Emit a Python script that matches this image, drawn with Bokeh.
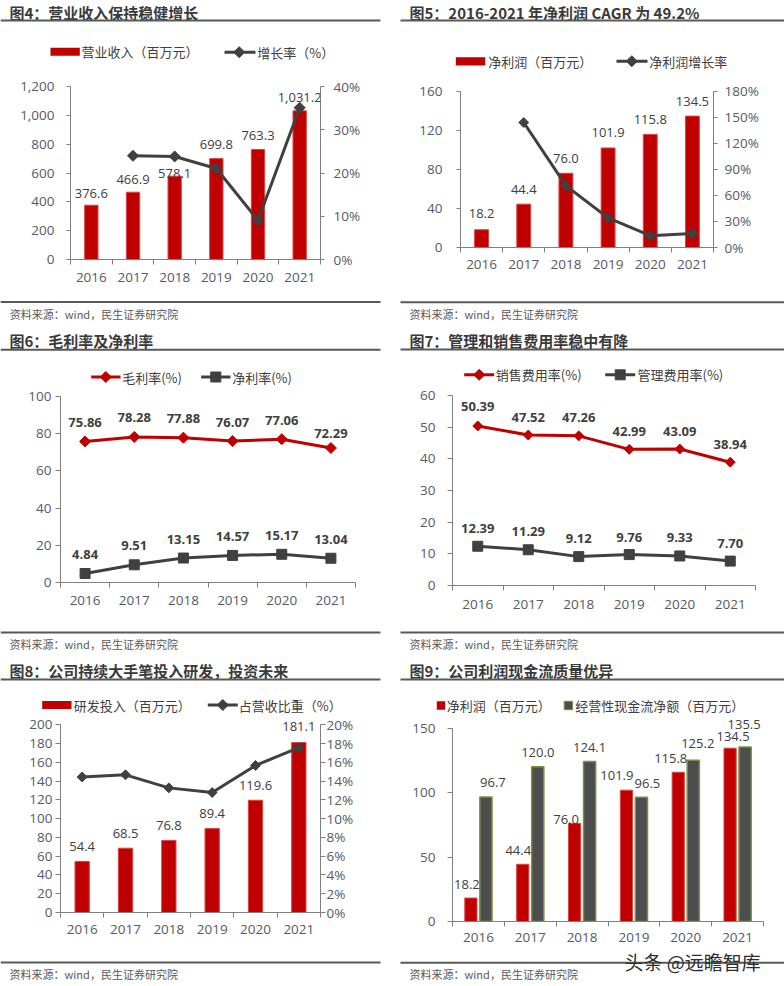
import numpy as np
from math import pi
from bokeh.plotting import figure
from bokeh.layouts import column, row
from bokeh.models import (Range1d, LinearAxis, FixedTicker, PrintfTickFormatter, NumeralTickFormatter,
                          LabelSet, ColumnDataSource)
from bokeh.core.properties import value
from bokeh.embed import file_html
from bokeh.resources import INLINE

# ---------------- data ----------------
years = ["2016", "2017", "2018", "2019", "2020", "2021"]
revenue = [376.6, 466.9, 578.1, 699.8, 763.3, 1031.2]            # 百万元
revenue_growth = [23.98, 23.82, 21.05, 9.07, 35.10]              # 2017-2021, %
net_profit = [18.2, 44.4, 76.0, 101.9, 115.8, 134.5]              # 百万元
net_profit_growth = [143.96, 71.17, 34.08, 13.64, 16.15]         # 2017-2021, %
gross_margin = [75.86, 78.28, 77.88, 76.07, 77.06, 72.29]
net_margin = [4.84, 9.51, 13.15, 14.57, 15.17, 13.04]
selling_ratio = [50.39, 47.52, 47.26, 42.99, 43.09, 38.94]
admin_ratio = [12.39, 11.29, 9.12, 9.76, 9.33, 7.70]
rd_spend = [54.4, 68.5, 76.8, 89.4, 119.6, 181.1]
rd_share = [14.44, 14.67, 13.28, 12.78, 15.67, 17.56]
op_cash_flow = [96.7, 120.0, 124.1, 96.5, 125.2, 135.5]

rev_ticks = [0, 200, 400, 600, 800, 1000, 1200]
rev_growth_ticks = [0, 10, 20, 30, 40]
np_ticks = [0, 40, 80, 120, 160]
np_growth_ticks = [0, 30, 60, 90, 120, 150, 180]
margin_ticks = [0, 20, 40, 60, 80, 100]
expense_ticks = [0, 10, 20, 30, 40, 50, 60]
rd_ticks = [0, 20, 40, 60, 80, 100, 120, 140, 160, 180, 200]
rd_share_ticks = [0, 2, 4, 6, 8, 10, 12, 14, 16, 18, 20]
cf_ticks = [0, 50, 100, 150]

titles = ["图4：营业收入保持稳健增长", "图5：2016-2021 年净利润 CAGR 为 49.2%",
          "图6：毛利率及净利率", "图7：管理和销售费用率稳中有降",
          "图8：公司持续大手笔投入研发，投资未来", "图9：公司利润现金流质量优异"]
legend_labels = {
    4: ["营业收入（百万元）", "增长率（%）"],
    5: ["净利润（百万元）", "净利润增长率"],
    6: ["毛利率(%)", "净利率(%)"],
    7: ["销售费用率(%)", "管理费用率(%)"],
    8: ["研发投入（百万元）", "占营收比重（%）"],
    9: ["净利润（百万元）", "经营性现金流净额（百万元）"],
}
source_note = "资料来源：wind，民生证券研究院"
watermark = "头条 @远瞻智库"

# ---------------- styles ----------------
RED = "#C00000"
RED_EDGE = "#D84545"
GRAY = "#404040"
BAR_GRAY = "#4D4D4F"
GREEN = "#77933C"
AXIS = "#808080"
RULE = "#595959"
TICK_TEXT = "#555A66"
LABEL_TEXT = "#404040"
TITLE_TEXT = "#3A3A3A"
CJK = "Noto Sans CJK SC"
NUM = "Open Sans"
PW = 392                      # panel width
TICK_FONT = "13.5px"

# label lifts (px above the point) and horizontal nudges (px)
rev_lift = [12, 13, 2.5, 14, 14, 13]
np_lift = [16, 15, 15, 15, 15, 15]
gm_lift = [19, 19, 19, 19, 19, 15]
nm_lift = [19, 19, 19, 19, 19, 19]
sell_lift = [19, 18, 18.5, 18, 17.5, 17.5]
admin_lift = [18, 18, 18, 17.5, 18, 17.5]
rd_lift = [15, 15, 15, 15, 15, 16]
cf_np_lift = [14, 14, 4, 15, 13.5, 12]
cf_np_shift = [-4, -4.5, -8.5, -9.5, -7.5, 3]
cf_ocf_lift = [14, 14.5, 14, 14, 17, 22]
cf_ocf_shift = [7, 0, 0, 6, 4.5, -1]

xi = np.arange(len(years))


# ---------- decoration strips (title / legend / source): 1 data unit = 1 px, y downwards ----------
def strip(height):
    p = figure(width=PW, height=height, x_range=Range1d(0, PW), y_range=Range1d(height, 0),
               output_backend="svg", toolbar_location=None, title=None,
               x_axis_location=None, y_axis_location=None, min_border=0,
               outline_line_color=None, background_fill_color="white", border_fill_color="white",
               frame_align=False)
    p.grid.visible = False
    return p


def s_text(p, X, Y, s, size, color, bold=False, font=CJK):
    p.text(x=[X], y=[Y], text=[s], text_font=value(font), text_font_size=value(size), text_color=color,
           text_font_style="bold" if bold else "normal", text_baseline="middle", text_align="left")


def s_rect(p, X0, X1, Y0, Y1, color, line_color=None, lw=1):
    p.quad(left=[X0], right=[X1], top=[Y0], bottom=[Y1], fill_color=color,
           line_color=line_color, line_width=lw)


def s_rule(p, X0, X1, Y):
    s_rect(p, X0, X1, Y - 1, Y + 1, RULE)


def s_key_bar(p, X0, X1, Y0, Y1, color, tx, text, line_color=None):
    s_rect(p, X0, X1, Y0, Y1, color, line_color=line_color)
    s_text(p, tx, (Y0 + Y1) / 2, text, "13px", LABEL_TEXT)


def s_key_line(p, X0, X1, Y, color, marker, mx, tx, text):
    s_rect(p, X0, X1, Y - 1.5, Y + 1.5, color)
    if marker == "diamond":
        p.scatter([mx], [Y], marker="square", angle=pi / 4, size=7.8, fill_color=color, line_color=color)
    else:
        p.scatter([mx], [Y], marker="square", size=10, fill_color=color, line_color=color)
    s_text(p, tx, Y, text, "13px", LABEL_TEXT)


def footer(height, X, Y, rx0, rx1, ry):
    p = strip(height)
    s_rule(p, rx0, rx1, ry)
    s_text(p, X, Y, source_note, "11px", "#595959")
    return p


# ---------- chart strip ----------
class Chart:
    def __init__(self, height, fl, fr, y_top, y_bottom, ticks, fmt, y_standoff, y_tick_out, x_standoff):
        # frame starts at the top of this strip; y_top / y_bottom: pixel rows of the top tick and the axis
        self.fb = int(round(y_bottom))
        self.y_top = y_top
        tmin, tmax = ticks[0], ticks[-1]
        y_end = tmax + y_top * (tmax - tmin) / (self.fb - y_top)
        p = figure(width=PW, height=height, x_range=Range1d(-0.5, len(years) - 0.5),
                   y_range=Range1d(tmin, y_end), output_backend="svg", toolbar_location=None, title=None,
                   min_border_left=int(round(fl)), min_border_right=PW - int(round(fr)),
                   min_border_top=0, min_border_bottom=height - self.fb,
                   outline_line_color=None, background_fill_color="white", border_fill_color="white",
                   frame_align=False)
        p.xgrid.visible = False
        p.ygrid.visible = False
        xa = p.xaxis[0]
        xa.ticker = FixedTicker(ticks=list(range(len(years))),
                                minor_ticks=[i - 0.5 for i in range(len(years) + 1)])
        xa.major_label_overrides = {i: y for i, y in enumerate(years)}
        xa.axis_line_color = AXIS
        xa.major_tick_line_color = None
        xa.major_tick_out = 0
        xa.major_tick_in = 0
        xa.minor_tick_line_color = AXIS
        xa.minor_tick_out = 5
        xa.minor_tick_in = 0
        xa.major_label_standoff = x_standoff
        xa.major_label_text_font = NUM
        xa.major_label_text_font_size = TICK_FONT
        xa.major_label_text_color = TICK_TEXT
        ya = p.yaxis[0]
        ya.ticker = FixedTicker(ticks=ticks)
        ya.bounds = (tmin, tmax)
        if fmt is not None:
            ya.formatter = fmt
        self._style_y(ya, y_standoff, y_tick_out)
        self.p = p

    @staticmethod
    def _style_y(ax, standoff, tick_out):
        ax.axis_line_color = AXIS
        ax.major_tick_line_color = AXIS
        ax.major_tick_out = tick_out
        ax.major_tick_in = 0
        ax.minor_tick_line_color = None
        ax.major_label_standoff = standoff
        ax.major_label_text_font = NUM
        ax.major_label_text_font_size = TICK_FONT
        ax.major_label_text_color = TICK_TEXT

    def right_axis(self, name, ticks, standoff, tick_out=4):
        pmin, pmax = ticks[0], ticks[-1]
        p_end = pmax + self.y_top * (pmax - pmin) / (self.fb - self.y_top)
        self.p.extra_y_ranges = {name: Range1d(pmin, p_end)}
        ax = LinearAxis(y_range_name=name, ticker=FixedTicker(ticks=ticks),
                        formatter=PrintfTickFormatter(format="%d%%"), bounds=(pmin, pmax))
        self._style_y(ax, standoff, tick_out)
        self.p.add_layout(ax, "right")

    def value_labels(self, x, y, texts, lift, shift=None, bold=False, y_range_name=None):
        src = ColumnDataSource(dict(x=list(x), y=list(y), t=texts, dy=list(lift),
                                    dx=list(shift) if shift is not None else [0] * len(texts)))
        kw = {"y_range_name": y_range_name} if y_range_name else {}
        self.p.add_layout(LabelSet(x="x", y="y", text="t", x_offset="dx", y_offset="dy", source=src,
                                   text_align="center", text_baseline="middle",
                                   text_font=value(NUM), text_font_size="13px",
                                   text_font_style="bold" if bold else "normal",
                                   text_color=LABEL_TEXT, **kw))


def line_series(p, x, y, color, marker, size, y_range_name=None, level="glyph"):
    kw = {"y_range_name": y_range_name} if y_range_name else {}
    p.line(x, y, line_color=color, line_width=3, line_join="round", level=level, **kw)
    if marker == "diamond":
        p.scatter(x, y, marker="square", angle=pi / 4, size=size, fill_color=color, line_color=color,
                  level=level, **kw)
    else:
        p.scatter(x, y, marker="square", size=size, fill_color=color, line_color=color, level=level, **kw)


# ================= 图4 (panel origin 0,0; 392x325) =================
h4 = strip(68)
s_text(h4, 9, 12, titles[0], "15px", TITLE_TEXT, bold=True)
s_rule(h4, 0, 380, 20)
s_key_bar(h4, 50, 79.3, 47.3, 55.3, RED, 81, legend_labels[4][0])
s_key_line(h4, 224, 255, 51.7, GRAY, "diamond", 238.7, 256.7, legend_labels[4][1])
c4 = Chart(229, 70, 320, 86 - 68, 259 - 68, rev_ticks, NumeralTickFormatter(format="0,0"), 12, 4, 8)
c4.right_axis("pct", rev_growth_ticks, 9, 4)
c4.p.vbar(x=xi, top=revenue, width=0.32, fill_color=RED, line_color=RED_EDGE, line_width=1)
c4.value_labels(xi, revenue, [f"{v:,.1f}" for v in revenue], rev_lift)
line_series(c4.p, xi[1:], revenue_growth, GRAY, "diamond", 7.8, "pct", level="overlay")
f4 = footer(28, 9.3, 16, 0, 380, 4.5)
panel4 = column(h4, c4.p, f4)

# ================= 图5 (origin 392,0) =================
h5 = strip(72)
s_text(h5, 17, 12, titles[1], "15px", TITLE_TEXT, bold=True)
s_rule(h5, 8, 392, 20)
s_key_bar(h5, 63.3, 92.7, 56.7, 65, RED, 95.7, legend_labels[5][0])
s_key_line(h5, 224, 255, 60.7, GRAY, "diamond", 239.3, 256.7, legend_labels[5][1])
c5 = Chart(225, 68, 320.7, 90.7 - 72, 246.7 - 72, np_ticks, None, 14, 4, 7)
c5.right_axis("pct", np_growth_ticks, 7, 4)
c5.p.vbar(x=xi, top=net_profit, width=0.33, fill_color=RED, line_color=RED_EDGE, line_width=1)
c5.value_labels(xi, net_profit, [f"{v:.1f}" for v in net_profit], np_lift)
line_series(c5.p, xi[1:], net_profit_growth, GRAY, "diamond", 7, "pct")
f5 = footer(28, 17, 16, 8, 392, 4.7)
panel5 = column(h5, c5.p, f5)

# ================= 图6 (origin 0,325; 392x330) =================
h6 = strip(61)
s_text(h6, 9, 15, titles[2], "15px", TITLE_TEXT, bold=True)
s_rule(h6, 0, 380, 24.3)
s_key_line(h6, 90.7, 120, 51.5, RED, "diamond", 105.3, 121.7, legend_labels[6][0])
s_key_line(h6, 200.7, 230, 51.5, GRAY, "square", 215.3, 231.7, legend_labels[6][1])
c6 = Chart(239, 60, 355, 71 - 61, 257 - 61, margin_ticks, None, 4, 5, 8)
line_series(c6.p, xi, gross_margin, RED, "diamond", 7.8)
line_series(c6.p, xi, net_margin, GRAY, "square", 10)
c6.value_labels(xi, gross_margin, [f"{v:.2f}" for v in gross_margin], gm_lift, bold=True)
c6.value_labels(xi, net_margin, [f"{v:.2f}" for v in net_margin], nm_lift, bold=True)
f6 = footer(30, 9, 18, 0, 380, 7)
panel6 = column(h6, c6.p, f6)

# ================= 图7 (origin 392,325) =================
h7 = strip(60)
s_text(h7, 17, 15, titles[3], "15px", TITLE_TEXT, bold=True)
s_rule(h7, 8, 392, 24)
s_key_line(h7, 71.7, 101.7, 49.3, RED, "diamond", 86.7, 103.3, legend_labels[7][0])
s_key_line(h7, 212.7, 242.7, 49.3, GRAY, "square", 227.7, 245, legend_labels[7][1])
c7 = Chart(240, 60, 362.7, 70 - 60, 260.3 - 60, expense_ticks, None, 12, 5, 9)
line_series(c7.p, xi, selling_ratio, RED, "diamond", 7)
line_series(c7.p, xi, admin_ratio, GRAY, "square", 10)
c7.value_labels(xi, selling_ratio, [f"{v:.2f}" for v in selling_ratio], sell_lift, bold=True)
c7.value_labels(xi, admin_ratio, [f"{v:.2f}" for v in admin_ratio], admin_lift, bold=True)
f7 = footer(30, 17, 18, 8, 392, 7)
panel7 = column(h7, c7.p, f7)

# ================= 图8 (origin 0,655; 392x330) =================
h8 = strip(59)
s_text(h8, 9, 15, titles[4], "15px", TITLE_TEXT, bold=True)
s_rule(h8, 0, 380, 24)
s_key_bar(h8, 41.7, 71, 45.5, 53.5, RED, 73.3, legend_labels[8][0])
s_key_line(h8, 207.3, 237.3, 49.5, GRAY, "diamond", 222.3, 238.3, legend_labels[8][1])
c8 = Chart(241, 60, 320, 69.3 - 59, 256.7 - 59, rd_ticks, None, 3, 5, 7)
c8.right_axis("pct", rd_share_ticks, 1, 5)
c8.p.vbar(x=xi, top=rd_spend, width=0.33, fill_color=RED, line_color=RED_EDGE, line_width=1)
c8.value_labels(xi, rd_spend, [f"{v:.1f}" for v in rd_spend], rd_lift)
line_series(c8.p, xi, rd_share, GRAY, "diamond", 7, "pct")
f8 = footer(30, 9, 18, 0, 380, 7)
panel8 = column(h8, c8.p, f8)

# ================= 图9 (origin 392,655) =================
h9 = strip(60)
s_text(h9, 17, 15, titles[5], "15px", TITLE_TEXT, bold=True)
s_rule(h9, 8, 392, 24)
s_key_bar(h9, 44.3, 52.7, 45.8, 54.2, RED, 54.3, legend_labels[9][0])
s_key_bar(h9, 171.7, 180, 45.8, 54.2, BAR_GRAY, 182.7, legend_labels[9][1], line_color=GREEN)
c9 = Chart(232, 60, 371, 72.7 - 60, 265.7 - 60, cf_ticks, None, 12, 5, 6)
c9.p.vbar(x=xi - 0.145, top=net_profit, width=0.235, fill_color=RED, line_color=RED_EDGE, line_width=1)
c9.p.vbar(x=xi + 0.145, top=op_cash_flow, width=0.235, fill_color=BAR_GRAY, line_color=GREEN, line_width=1.5)
c9.value_labels(xi - 0.145, net_profit, [f"{v:.1f}" for v in net_profit], cf_np_lift, cf_np_shift)
c9.value_labels(xi + 0.145, op_cash_flow, [f"{v:.1f}" for v in op_cash_flow], cf_ocf_lift, cf_ocf_shift)
f9 = footer(38, 17, 26, 8, 392, 15.3)
s_text(f9, 232, 14, watermark, "19px", "#2E2E2E")
panel9 = column(h9, c9.p, f9)

layout = column(row(panel4, panel5), row(panel6, panel7), row(panel8, panel9))
open("out.html", "w").write(file_html(layout, INLINE))
